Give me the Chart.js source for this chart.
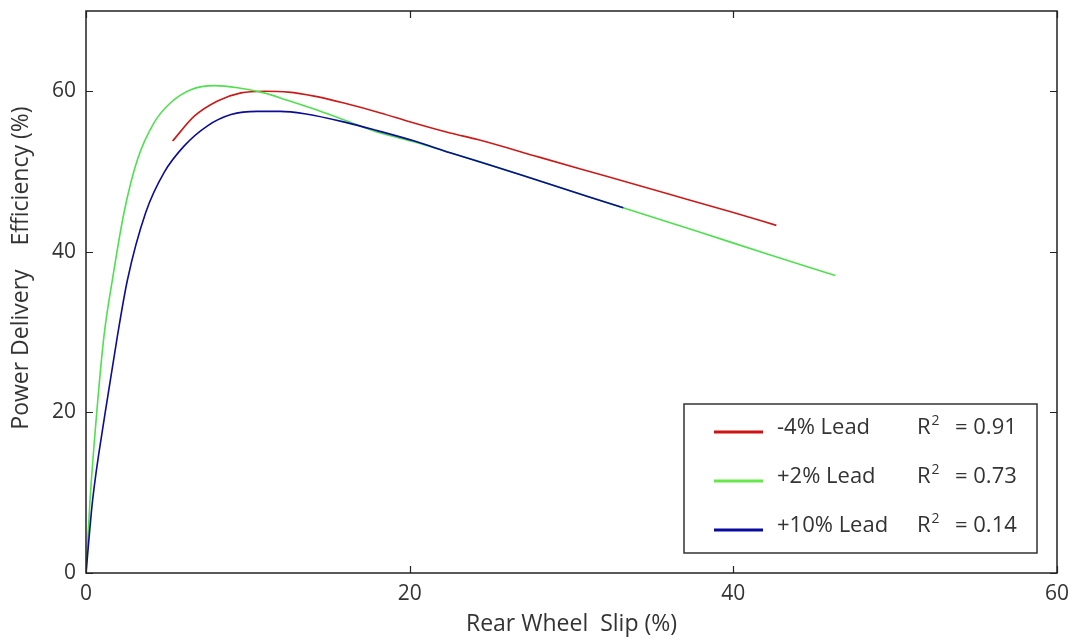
<!DOCTYPE html>
<html>
<head>
<meta charset="utf-8">
<script src="https://cdn.jsdelivr.net/npm/chart.js@4/dist/chart.umd.min.js"></script>
<style>
  body { margin: 0; background: #fff; }
  #chart { display: block; }
</style>
</head>
<body>
<canvas id="chart" width="1085" height="641"></canvas>
<script>
// series (slip %, efficiency %)
const seriesLabels = ['-4% Lead', '+2% Lead', '+10% Lead'];
const r2Values = ['0.91', '0.73', '0.14'];

const redX = [5.35, 6.69, 8.13, 9.58, 11.0, 12.5, 14.1, 16, 18.2, 20, 22.5, 24.2, 28, 32, 36, 40, 42.66];
const redY = [53.8, 56.9, 58.8, 59.8, 60.0, 59.9, 59.4, 58.5, 57.3, 56.2, 54.8, 54.0, 51.8, 49.5, 47.2, 44.9, 43.3];

const greenX = [0, 0.25, 0.66, 1.11, 1.63, 2.35, 3.18, 4.21, 5.24, 6.48, 7.93, 9.37, 11.0, 12.5, 14.1, 16, 18.2, 20.3, 22.5, 24.2, 28, 31, 34.5, 38, 42, 46.3];
const greenY = [0, 9.1, 19.9, 29.5, 36.5, 44.9, 51.5, 56.1, 58.6, 60.2, 60.7, 60.45, 59.8, 58.85, 57.8, 56.4, 54.8, 53.7, 52.35, 51.3, 48.85, 46.9, 44.65, 42.4, 39.8, 37.05];

const blueX = [0, 0.41, 1.18, 1.94, 2.56, 3.69, 4.83, 6.07, 7.51, 8.96, 10.6, 12.0, 13.5, 16.1, 18, 20.3, 22.5, 25, 28, 31, 33.2];
const blueY = [0, 9.1, 19.9, 29.5, 36.5, 44.9, 49.9, 53.2, 55.7, 57.1, 57.5, 57.5, 57.2, 56.1, 55.1, 53.8, 52.35, 50.8, 48.85, 46.9, 45.5];

const xTicks = [0, 20, 40, 60];
const yTicks = [0, 20, 40, 60];

const lineColors = ['#cc1a1a', '#4fe04f', '#0c0c96'];
const legendColors = ['#d01212', '#66e84a', '#0a0aa0'];

function toPoints(xs, ys) {
    return xs.map((x, i) => ({ x: x, y: ys[i] }));
}

const txtColor = '#333333';
const fontFamily = '"Open Sans", sans-serif';

// box around the plot plus inward tick marks (matlab style)
const boxPlugin = {
    id: 'boxPlugin',
    afterDatasetsDraw(chart) {
        const { ctx, chartArea: a, scales } = chart;
        ctx.save();
        ctx.strokeStyle = '#222';
        ctx.lineWidth = 1.5;
        ctx.strokeRect(a.left, a.top, a.right - a.left, a.bottom - a.top);
        ctx.lineWidth = 1.2;
        ctx.beginPath();
        xTicks.forEach(v => {
            const px = Math.round(scales.x.getPixelForValue(v)) + 0.5;
            ctx.moveTo(px, a.bottom); ctx.lineTo(px, a.bottom - 7);
            ctx.moveTo(px, a.top); ctx.lineTo(px, a.top + 7);
        });
        yTicks.forEach(v => {
            const py = Math.round(scales.y.getPixelForValue(v)) + 0.5;
            ctx.moveTo(a.left, py); ctx.lineTo(a.left + 7, py);
            ctx.moveTo(a.right, py); ctx.lineTo(a.right - 7, py);
        });
        ctx.stroke();
        ctx.restore();
    }
};

// legend box with R^2 column
const legendBoxPlugin = {
    id: 'legendBox',
    afterDraw(chart) {
        const ctx = chart.ctx;
        const left = 684, top = 404, right = 1037, bottom = 553;
        const rows = [428, 477, 526];
        ctx.save();
        ctx.fillStyle = '#fff';
        ctx.fillRect(left, top, right - left, bottom - top);
        ctx.strokeStyle = '#333';
        ctx.lineWidth = 1.5;
        ctx.strokeRect(left, top, right - left, bottom - top);
        ctx.textBaseline = 'middle';
        seriesLabels.forEach((lbl, i) => {
            const y = rows[i];
            ctx.strokeStyle = legendColors[i];
            ctx.lineWidth = 3;
            ctx.beginPath();
            ctx.moveTo(714, y + 4); ctx.lineTo(763, y + 4);
            ctx.stroke();
            ctx.fillStyle = txtColor;
            ctx.font = '22px ' + fontFamily;
            ctx.textAlign = 'left';
            ctx.fillText(lbl, 777, y);
            ctx.fillText('R', 917, y);
            const rw = ctx.measureText('R').width;
            ctx.font = '14px ' + fontFamily;
            ctx.fillText('2', 917 + rw + 1, y - 7);
            ctx.font = '22px ' + fontFamily;
            ctx.fillText('= ' + r2Values[i], 955, y);
        });
        ctx.restore();
    }
};

const ctx = document.getElementById('chart').getContext('2d');
new Chart(ctx, {
    type: 'scatter',
    data: {
        datasets: [
            { label: seriesLabels[2], data: toPoints(blueX, blueY), borderColor: lineColors[2], order: 0 },
            { label: seriesLabels[1], data: toPoints(greenX, greenY), borderColor: lineColors[1], order: 1 },
            { label: seriesLabels[0], data: toPoints(redX, redY), borderColor: lineColors[0], order: 2 }
        ].map(d => Object.assign(d, {
            showLine: true,
            borderWidth: 1.6,
            pointRadius: 0,
            cubicInterpolationMode: 'monotone',
            fill: false
        }))
    },
    options: {
        responsive: false,
        animation: false,
        layout: { padding: { top: 11, right: 28, left: 0, bottom: 0 } },
        plugins: {
            legend: { display: false },
            tooltip: { enabled: false }
        },
        scales: {
            x: {
                type: 'linear',
                min: 0, max: 60,
                afterBuildTicks: s => { s.ticks = xTicks.map(v => ({ value: v })); },
                afterFit: s => { s.height = 68; s.paddingLeft = 0; s.paddingRight = 0; },
                grid: { display: false, drawTicks: false },
                border: { display: false },
                ticks: { color: txtColor, font: { family: fontFamily, size: 21 }, padding: 8, maxRotation: 0 },
                title: {
                    display: true,
                    text: 'Rear Wheel  Slip (%)',
                    color: txtColor,
                    font: { family: fontFamily, size: 23 },
                    padding: { top: 0, bottom: 3 }
                }
            },
            y: {
                type: 'linear',
                min: 0, max: 70,
                afterBuildTicks: s => { s.ticks = yTicks.map(v => ({ value: v })); },
                afterFit: s => { s.width = 86; s.paddingTop = 0; s.paddingBottom = 0; },
                grid: { display: false, drawTicks: false },
                border: { display: false },
                ticks: { color: txtColor, font: { family: fontFamily, size: 21 }, padding: 10 },
                title: {
                    display: true,
                    // leading blanks nudge the rotated title upward like the original
                    text: '        Power Delivery    Efficiency (%)',
                    color: txtColor,
                    font: { family: fontFamily, size: 23 },
                    padding: { top: 8, bottom: 0 }
                }
            }
        }
    },
    plugins: [boxPlugin, legendBoxPlugin]
});
</script>
</body>
</html>
